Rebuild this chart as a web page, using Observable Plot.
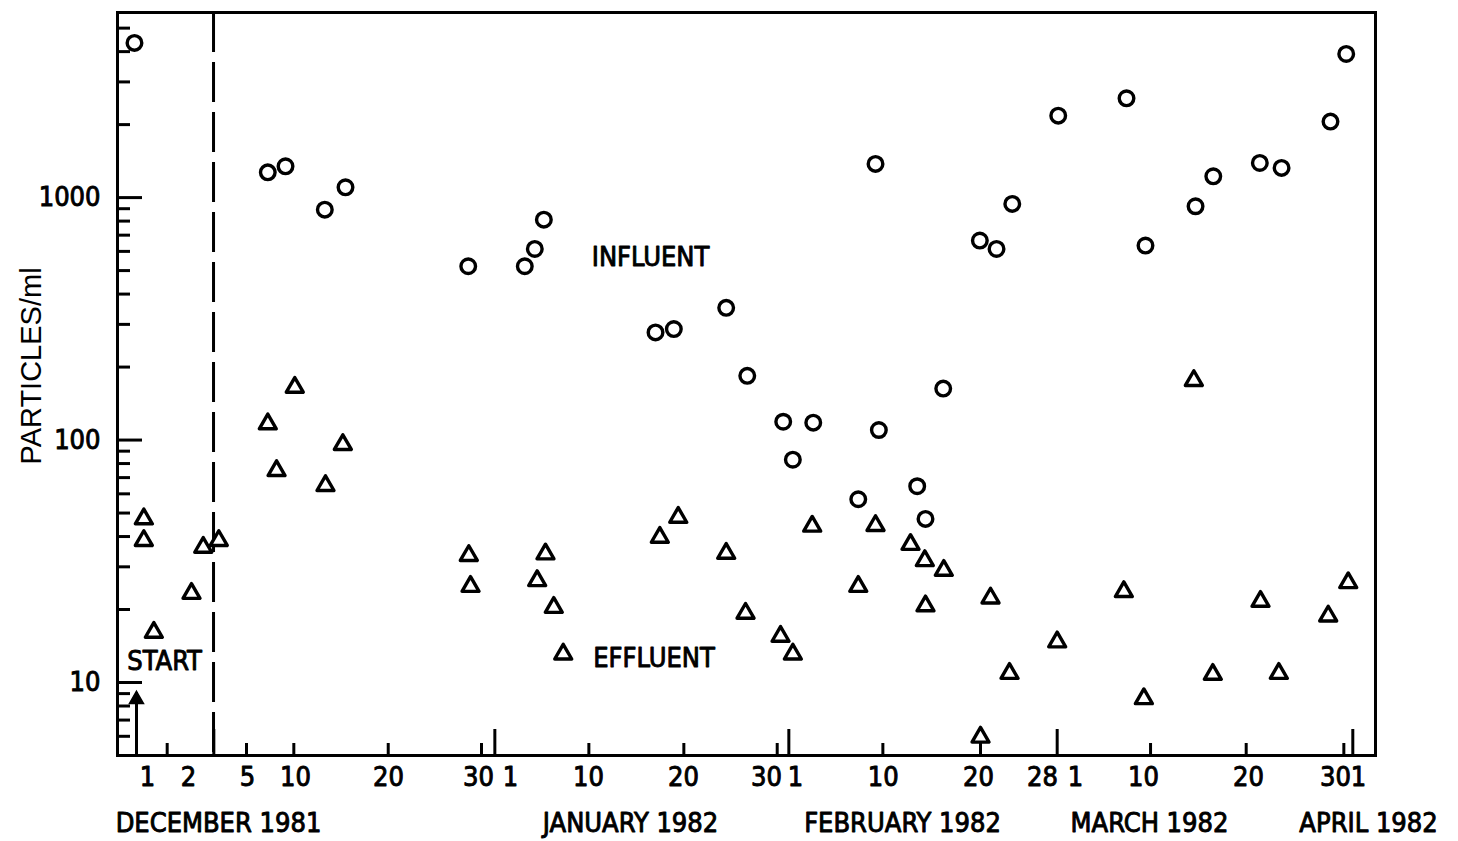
<!DOCTYPE html>
<html>
<head>
<meta charset="utf-8">
<script src="https://cdn.jsdelivr.net/npm/d3@7"></script>
<script src="https://cdn.jsdelivr.net/npm/@observablehq/plot@0.6"></script>
<style>
html, body { margin: 0; padding: 0; background: #fff; overflow: hidden; }
</style>
</head>
<body>
<div id="chart"></div>
<script>
// x positions are in "days" along the axis (0 ≈ 1 December 1981)
const influentDay = [-7.66, 6.32, 8.18, 12.30, 14.47, 27.34, 33.27, 34.32, 35.27, 46.98, 48.90, 54.39, 56.60,
  60.37, 61.38, 63.52, 68.24, 70.05, 70.40, 74.42, 75.29, 77.15, 80.99, 82.74, 84.39, 89.21, 96.37, 98.36,
  103.61, 105.47, 110.35, 112.63, 117.76, 119.41];
const influentValue = [4345, 1271, 1346, 892, 1103, 521, 521, 614, 811, 278, 287, 351, 184,
  119, 83, 118, 57, 1377, 110, 64.5, 47.3, 163, 665, 614, 942, 2178, 2568, 634,
  921, 1224, 1390, 1326, 2058, 3913];

const effluentDay = [-6.68, -6.68, -5.63, -1.68, -0.45, 1.18, 6.32, 7.24, 9.15, 12.37, 14.19, 27.40, 27.58,
  34.57, 35.44, 36.31, 37.30, 47.43, 49.36, 54.39, 56.42, 60.09, 61.38, 63.41, 68.24, 70.05, 73.72, 75.22,
  77.21, 75.29, 81.06, 82.11, 84.10, 89.10, 96.09, 98.19, 103.43, 105.42, 110.42, 112.34, 117.52, 119.62];
const effluentValue = [47.3, 38.5, 16.1, 23.3, 36.1, 38.5, 116.6, 74.8, 165, 64.9, 95.8, 33.4, 24.9,
  26.3, 33.9, 20.4, 13.1, 39.7, 48.0, 34.1, 19.3, 15.5, 13.1, 44.1, 24.9, 44.4, 37.1, 31.8,
  29.0, 20.7, 5.95, 22.3, 10.9, 14.7, 23.7, 8.57, 176, 10.8, 21.6, 10.9, 18.8, 25.8];

const yMajorTicks = [10, 100, 1000];
const yMinorTicks = [5, 6, 7, 8, 9, 20, 30, 40, 50, 60, 70, 80, 90, 200, 300, 400, 500, 600, 700, 800, 900, 2000, 3000, 4000, 5000];

const xTallTicks = [-7.45, 0.66, 30.13, 60.96, 89.10, 120.10];
const xShortTicks = [-4.23, 4.09, 9.05, 18.95, 28.73, 39.99, 49.95, 59.74, 70.82, 81.06, 98.89, 108.92, 119.16];

const dayLabelPos = [-6.29, -1.99, 4.19, 9.23, 18.98, 28.42, 31.77, 39.95, 49.92, 58.62, 61.66, 70.86, 80.85, 87.56, 91.02, 98.15, 109.17, 118.29, 120.70];
const dayLabels = ["1", "2", "5", "10", "20", "30", "1", "10", "20", "30", "1", "10", "20", "28", "1", "10", "20", "30", "1"];

const monthLabelPos = [1.15, 44.36, 72.88, 98.78, 121.75];
const monthLabels = ["DECEMBER 1981", "JANUARY 1982", "FEBRUARY 1982", "MARCH 1982", "APRIL 1982"];

const noteText = ["INFLUENT", "EFFLUENT", "START"];
const noteDay = [46.46, 46.82, -4.5];
const noteValue = [566, 12.56, 12.2];

const startDay = -7.45;
const startArrowFrom = 5;
const startArrowTo = 9.1;
const boundaryDay = 0.63;

const yLabel = "PARTICLES/ml";

const NARROW = '"DejaVu Sans Condensed", "Liberation Sans Narrow", sans-serif';
const heavy = {fontFamily: NARROW, fontSize: 27, fontWeight: "normal", fill: "black", stroke: "black", strokeWidth: 0.9};

const influent = influentDay.map((d, i) => ({day: d, value: influentValue[i]}));
const effluent = effluentDay.map((d, i) => ({day: d, value: effluentValue[i]}));
const dayTickText = dayLabelPos.map((d, i) => ({day: d, label: dayLabels[i]}));
const monthText = monthLabelPos.map((d, i) => ({day: d, label: monthLabels[i]}));
const notes = noteText.map((t, i) => ({day: noteDay[i], value: noteValue[i], label: t}));
const startArrow = [{day: startDay, from: startArrowFrom, to: startArrowTo}];

const chart = Plot.plot({
  width: 1458,
  height: 841,
  marginLeft: 117,
  marginRight: 83,
  marginTop: 12,
  marginBottom: 86,
  style: {background: "white", color: "black", fontFamily: NARROW},
  x: {domain: [-9.44, 122.48]},
  y: {type: "log", domain: [5, 5800]},
  marks: [
    Plot.axisY(yMajorTicks, {tickSize: -25, strokeWidth: 3, fill: "none", label: null}),
    Plot.axisY(yMinorTicks, {tickSize: -13, strokeWidth: 3, fill: "none", label: null}),
    Plot.axisY(yMajorTicks, {tickSize: 0, tickPadding: 17, tickFormat: d => String(d), fontSize: 27, fontFamily: NARROW, label: null}),
    Plot.axisX(xTallTicks, {tickSize: -26, strokeWidth: 3, fill: "none", label: null}),
    Plot.axisX(xShortTicks, {tickSize: -12, strokeWidth: 3, fill: "none", label: null}),
    Plot.text(dayTickText, {x: "day", text: "label", frameAnchor: "bottom", dy: 30, ...heavy}),
    Plot.text(monthText, {x: "day", text: "label", frameAnchor: "bottom", dy: 76, ...heavy}),
    Plot.text([yLabel], {text: d => d, frameAnchor: "left", textAnchor: "middle", rotate: -90, dx: -86, dy: -18, fontSize: 29, fontFamily: '"Liberation Sans", Arial, sans-serif'}),
    Plot.ruleX([boundaryDay], {strokeWidth: 3, strokeDasharray: "40,10"}),
    Plot.ruleX(startArrow, {x: "day", y1: "from", y2: "to", strokeWidth: 3}),
    Plot.dot(startArrow, {x: "day", y: "to", symbol: "triangle", r: 5.2, fill: "black", stroke: "black", strokeWidth: 1.5, dy: 7}),
    Plot.dot(influent, {x: "day", y: "value", r: 7.3, stroke: "black", strokeWidth: 3.4, fill: "white"}),
    Plot.dot(effluent, {x: "day", y: "value", symbol: "triangle", r: 6.3, stroke: "black", strokeWidth: 3.4, fill: "white", strokeLinejoin: "round"}),
    Plot.text(notes, {x: "day", y: "value", text: "label", ...heavy}),
    Plot.frame({strokeWidth: 3})
  ]
});
document.getElementById("chart").append(chart);
// thicken the y tick labels the same way as the other typewriter-like labels
chart.querySelectorAll('[aria-label="y-axis tick label"] text').forEach(t => {
  t.setAttribute("stroke", "black");
  t.setAttribute("stroke-width", "0.9");
});
</script>
</body>
</html>
